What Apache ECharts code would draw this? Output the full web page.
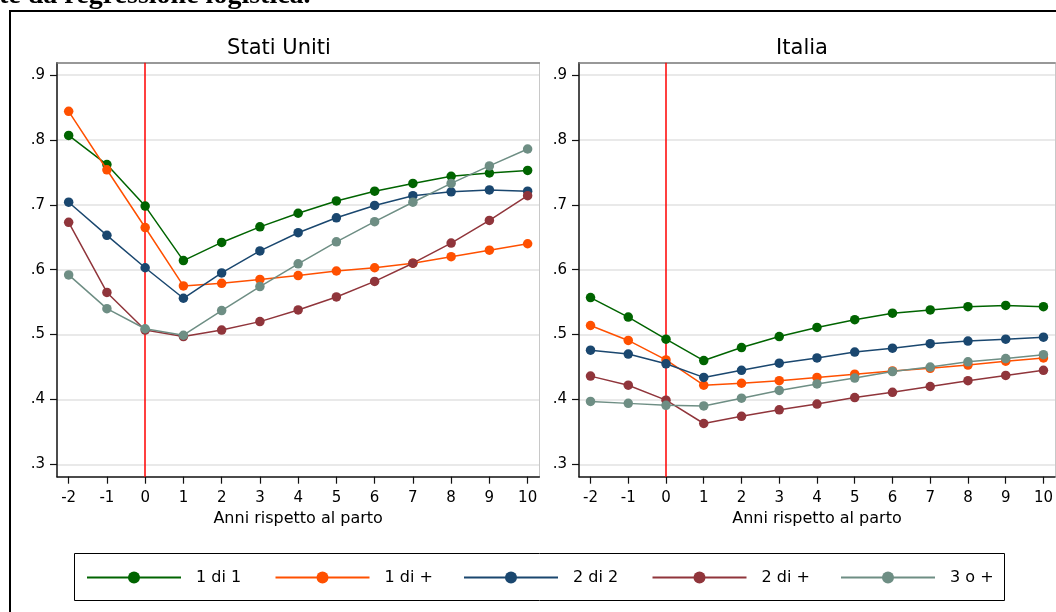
<!DOCTYPE html>
<html>
<head>
<meta charset="utf-8">
<script src="https://cdn.jsdelivr.net/npm/echarts@6/dist/echarts.min.js"></script>
<style>
  html, body { margin: 0; padding: 0; background: #fff; }
  #chart { width: 1056px; height: 612px; }
</style>
</head>
<body>
<div id="chart"></div>
<script>
// Anni rispetto al parto
const years = [-2, -1, 0, 1, 2, 3, 4, 5, 6, 7, 8, 9, 10];
const yTicks = [0.3, 0.4, 0.5, 0.6, 0.7, 0.8, 0.9];

const groupNames = ['1 di 1', '1 di +', '2 di 2', '2 di +', '3 o +'];
const groupColors = ['#006400', '#ff5000', '#1a476f', '#90353b', '#6e8e84'];

// Stati Uniti
const us_1di1 = [0.807, 0.762, 0.698, 0.614, 0.642, 0.666, 0.687, 0.706, 0.721, 0.733, 0.744, 0.749, 0.753];
const us_1dipiu = [0.844, 0.754, 0.665, 0.575, 0.579, 0.585, 0.591, 0.598, 0.603, 0.610, 0.620, 0.630, 0.640];
const us_2di2 = [0.704, 0.653, 0.603, 0.556, 0.595, 0.629, 0.657, 0.680, 0.699, 0.714, 0.720, 0.723, 0.721];
const us_2dipiu = [0.673, 0.565, 0.507, 0.497, 0.507, 0.520, 0.538, 0.558, 0.582, 0.610, 0.641, 0.676, 0.714];
const us_3opiu = [0.592, 0.540, 0.509, 0.499, 0.537, 0.574, 0.609, 0.643, 0.674, 0.704, 0.733, 0.760, 0.786];

// Italia
const it_1di1 = [0.557, 0.527, 0.493, 0.460, 0.480, 0.497, 0.511, 0.523, 0.533, 0.538, 0.543, 0.545, 0.543];
const it_1dipiu = [0.514, 0.491, 0.461, 0.422, 0.425, 0.429, 0.434, 0.439, 0.444, 0.448, 0.453, 0.459, 0.464];
const it_2di2 = [0.476, 0.470, 0.455, 0.434, 0.445, 0.456, 0.464, 0.473, 0.479, 0.486, 0.490, 0.493, 0.496];
const it_2dipiu = [0.436, 0.422, 0.399, 0.363, 0.374, 0.384, 0.393, 0.403, 0.411, 0.420, 0.429, 0.437, 0.445];
const it_3opiu = [0.397, 0.394, 0.391, 0.390, 0.402, 0.414, 0.424, 0.433, 0.443, 0.450, 0.458, 0.463, 0.469];

const panels = [
  { title: 'Stati Uniti', series: [us_1di1, us_1dipiu, us_2di2, us_2dipiu, us_3opiu] },
  { title: 'Italia', series: [it_1di1, it_1dipiu, it_2di2, it_2dipiu, it_3opiu] }
];

const FONT = 'DejaVu Sans';
const X_MIN = -2.305, X_MAX = 10.305;
const Y_MIN = 0.281, Y_MAX = 0.919;

const gridLefts = [57, 579];
const titleCenters = [274, 797];
const legendLefts = [86, 274.5, 463, 651.5, 840];

const grids = [], xAxes = [], yAxes = [], titles = [], series = [];

panels.forEach((p, i) => {
  grids.push({ left: gridLefts[i], top: 62.7, width: 482.3, height: 414, containLabel: false });
  titles.push({
    text: p.title, left: titleCenters[i], top: 33, textAlign: 'center',
    textStyle: { fontFamily: FONT, fontSize: 21, fontWeight: 'normal', color: '#000' }
  });
  // bottom axis with ticks, labels and title
  xAxes.push({
    type: 'value', gridIndex: i, min: X_MIN, max: X_MAX, position: 'bottom',
    name: 'Anni rispetto al parto', nameLocation: 'middle', nameGap: 33,
    nameTextStyle: { fontFamily: FONT, fontSize: 16, color: '#000' },
    axisLine: { show: true, onZero: false, lineStyle: { color: '#111', width: 1.5 } },
    axisTick: { show: true, length: 7, customValues: years, lineStyle: { color: '#111', width: 1.2 } },
    axisLabel: { customValues: years, margin: 14, fontFamily: FONT, fontSize: 15, color: '#000' },
    splitLine: { show: false }
  });
  // top frame edge
  xAxes.push({
    type: 'value', gridIndex: i, min: X_MIN, max: X_MAX, position: 'top',
    axisLine: { show: true, onZero: false, lineStyle: { color: '#777', width: 1.5 } },
    axisTick: { show: false }, axisLabel: { show: false }, splitLine: { show: false }
  });
  yAxes.push({
    type: 'value', gridIndex: i, min: Y_MIN, max: Y_MAX, position: 'left',
    axisLine: { show: true, onZero: false, lineStyle: { color: '#111', width: 1.5 } },
    axisTick: { show: true, length: 7, customValues: yTicks, lineStyle: { color: '#111', width: 1.2 } },
    axisLabel: {
      customValues: yTicks, margin: 12, fontFamily: FONT, fontSize: 15, color: '#000',
      formatter: v => v.toFixed(1).replace(/^0/, '')
    },
    splitLine: { show: true, lineStyle: { color: '#e2e2e2', width: 1.5 } }
  });
  // right frame edge
  yAxes.push({
    type: 'value', gridIndex: i, min: Y_MIN, max: Y_MAX, position: 'right',
    axisLine: { show: true, onZero: false, lineStyle: { color: '#c8c8c8', width: 1 } },
    axisTick: { show: false }, axisLabel: { show: false }, splitLine: { show: false }
  });

  p.series.forEach((vals, k) => {
    const s = {
      type: 'line', name: groupNames[k],
      xAxisIndex: i * 2, yAxisIndex: i * 2,
      data: years.map((x, j) => [x, vals[j]]),
      symbol: 'circle', symbolSize: 9.5,
      lineStyle: { color: groupColors[k], width: 1.5 },
      itemStyle: { color: groupColors[k] },
      emphasis: { disabled: true },
      z: 2 + k * 0.01
    };
    if (k === 0) {
      // birth year reference line
      s.markLine = {
        silent: true, symbol: 'none', z: 1,
        label: { show: false },
        lineStyle: { color: '#ff0000', width: 1.5, type: 'solid' },
        data: [{ xAxis: 0 }]
      };
    }
    series.push(s);
  });
});

// one legend entry per group, evenly spaced inside a framed box
const legends = groupNames.map((name, k) => ({
  data: [name],
  left: legendLefts[k], top: 569.5,
  padding: 0,
  itemWidth: 94, itemHeight: 15,
  selectedMode: false,
  textStyle: { fontFamily: FONT, fontSize: 16, color: '#000', padding: [0, 0, 0, 10] }
}));

const chart = echarts.init(document.getElementById('chart'), null, { renderer: 'canvas' });
chart.setOption({
  animation: false,
  backgroundColor: '#fff',
  title: titles,
  grid: grids,
  xAxis: xAxes,
  yAxis: yAxes,
  legend: legends,
  graphic: [
    {
      type: 'rect', silent: true,
      shape: { x: 10, y: 11, width: 1200, height: 800 },
      style: { fill: 'none', stroke: '#000', lineWidth: 2 }
    },
    {
      type: 'rect', silent: true,
      shape: { x: 74.5, y: 553.5, width: 930, height: 47 },
      style: { fill: 'none', stroke: '#000', lineWidth: 1 }
    },
    {
      type: 'text', silent: true, x: -1, y: 10,
      style: {
        text: 'te da regressione logistica.',
        font: 'bold 28px "Liberation Serif"', fill: '#000',
        verticalAlign: 'bottom'
      }
    }
  ],
  series: series
});
</script>
</body>
</html>
